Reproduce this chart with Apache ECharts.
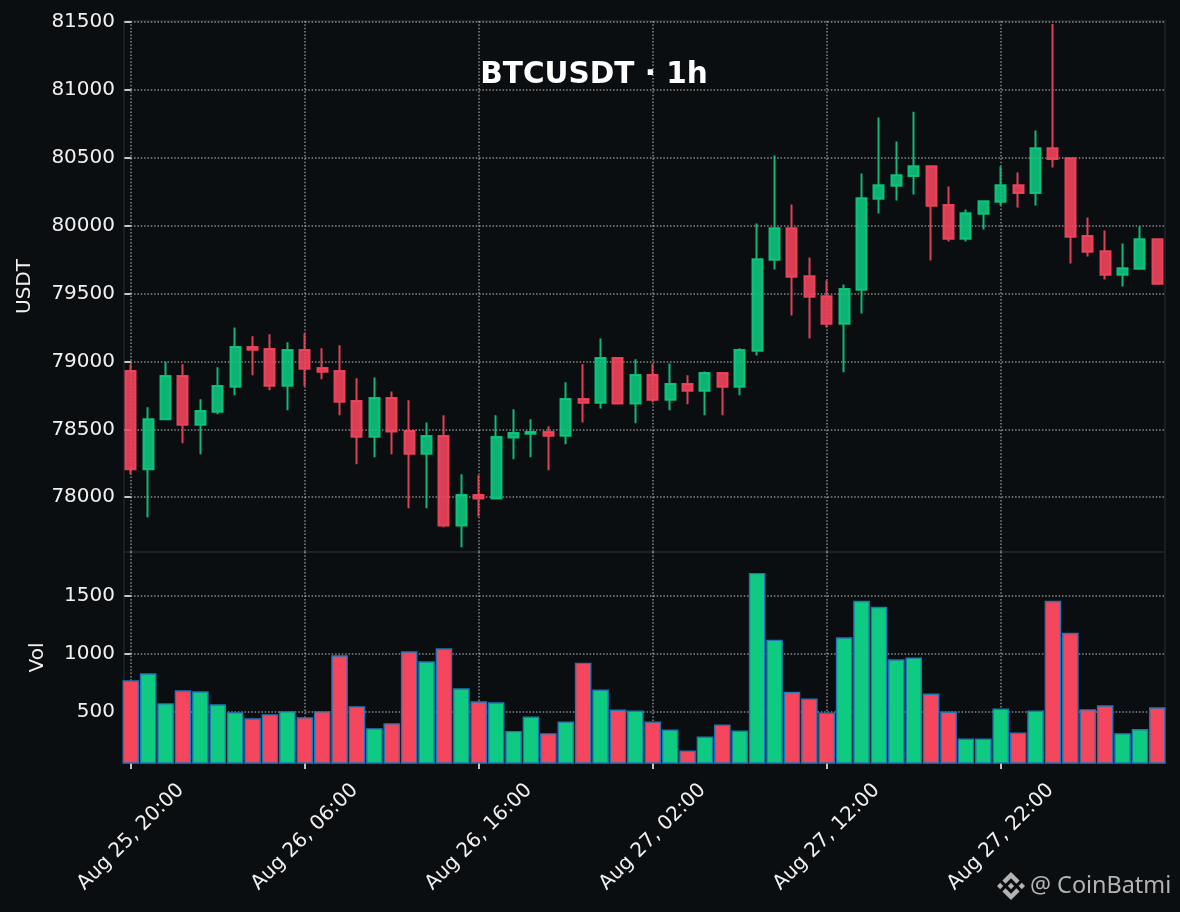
<!DOCTYPE html>
<html>
<head>
<meta charset="utf-8">
<style>html,body{margin:0;padding:0;background:#0b0e11}#c{width:1180px;height:912px}</style>
<script src="https://cdn.jsdelivr.net/npm/echarts@6/dist/echarts.min.js"></script>
</head>
<body>
<div id="c"></div>
<script>
const opens  = [78929,78206,78574,78892,78534,78630,78814,79105,79091,78821,79083,78951,78929,78708,78446,78730,78488,78321,78451,77792,
                78017,77990,78439,78468,78480,78453,78723,78696,79025,78689,78899,78718,78833,78784,78914,78814,79078,79748,79980,79627,
                79480,79277,79527,80196,80292,80365,80436,80150,79902,80086,80174,80297,80240,80569,80495,79922,79811,79637,79681,79899];
const closes = [78206,78574,78892,78534,78635,78819,79105,79086,78821,79083,78946,78924,78703,78446,78730,78483,78321,78451,77792,78017,
                77990,78444,78473,78480,78453,78723,78696,79025,78689,78899,78718,78833,78784,78914,78814,79083,79752,79980,79623,79475,
                79277,79532,80201,80297,80370,80436,80145,79902,80091,80179,80297,80240,80569,80490,79917,79806,79637,79686,79899,79571];
const lows   = [78169,77853,78572,78397,78316,78610,78750,78897,78787,78640,78816,78868,78603,78243,78294,78316,77919,77919,77779,77632,
                77858,77990,78279,78294,78199,78390,78551,78654,78685,78544,78699,78640,78684,78603,78603,78750,79044,79676,79338,79169,
                79250,78919,79353,80088,80184,80228,79743,79882,79882,79971,80147,80132,80147,80426,79721,79772,79603,79551,79680,79567];
const highs  = [78978,78662,78998,78978,78721,78956,79250,79184,79199,79140,79206,79096,79118,78875,78882,78779,78713,78551,78603,78169,
                78162,78603,78647,78574,78522,78846,78978,79169,79030,79015,78978,78985,78897,78926,78918,79096,80015,80515,80154,79765,
                79596,79566,80382,80794,80618,80838,80440,80287,80118,80183,80434,80390,80699,81483,80500,80059,79963,79868,79993,79903];
const volumes = [773,833,575,687,678,566,497,445,480,506,454,506,989,549,359,402,1023,937,1049,704,
                 592,583,335,460,316,417,925,693,520,511,417,348,167,287,391,339,1701,1124,675,615,
                 494,1144,1460,1408,954,971,658,503,270,270,529,322,511,1460,1184,523,557,316,351,540];
const xTicks = [0,10,20,30,40,50];
const xTickLabels = ['Aug 25, 20:00','Aug 26, 06:00','Aug 26, 16:00','Aug 27, 02:00','Aug 27, 12:00','Aug 27, 22:00'];
const priceTicks = [78000,78500,79000,79500,80000,80500,81000,81500];
const volumeTicks = [500,1000,1500];

const UP = '#0ECB81', DOWN = '#F6465D';
const FONT = '"DejaVu Sans"';
const TEXT = '#f0f0f0', TICK = '#d8d8d8', SPINE = '#1e2327';
const gridDots = {show:true, lineStyle:{color:'rgba(255,255,255,0.5)', width:1.5, type:[1.5,1.85]}};
const logoPieces = [
  [[16.62,13.92],[19.34,16.64],[11.99,23.99],[4.64,16.64],[7.35,13.92],[11.99,18.58]],
  [[21.26,9.28],[24,12],[21.28,14.72],[18.57,12]],
  [[11.99,9.28],[14.7,12],[11.99,14.7],[9.27,12]],
  [[2.72,9.28],[5.41,12],[2.72,14.69],[0,12]],
  [[11.99,0.01],[19.34,7.34],[16.62,10.06],[11.99,5.42],[7.35,10.08],[4.64,7.36]]
];

const chart = echarts.init(document.getElementById('c'));
const xCommon = {type:'value', min:-0.39, max:59.44, axisLine:{show:false}, splitLine:gridDots};
const yCommon = {
  type:'value', position:'left', nameLocation:'middle', nameRotate:90,
  nameTextStyle:{color:TEXT, fontSize:20, fontFamily:FONT},
  axisLine:{show:false},
  axisTick:{show:true, inside:false, length:6, lineStyle:{color:TICK, width:1.8}},
  splitLine:gridDots
};
function yAxis(name, min, max, ticks, nameGap){
  return Object.assign({}, yCommon, {
    name, min, max, nameGap,
    axisTick:Object.assign({}, yCommon.axisTick, {customValues:ticks}),
    axisLabel:{customValues:ticks, color:TEXT, fontSize:20, fontFamily:FONT, margin:9, padding:[3,0,0,0],
               showMinLabel:true, showMaxLabel:true, formatter:v=>String(v)}
  });
}
chart.setOption({
  animation:false,
  backgroundColor:'#0b0e11',
  title:{text:'BTCUSDT · 1h', left:589, top:55, textAlign:'center',
         textStyle:{color:'#ffffff', fontSize:29.5, fontWeight:'bold', fontFamily:FONT}},
  grid:[
    {left:124, top:21, width:1041, height:531, show:true, borderColor:SPINE, borderWidth:1.6, backgroundColor:'transparent'},
    {left:124, top:552, width:1041, height:211, show:true, borderColor:SPINE, borderWidth:1.6, backgroundColor:'transparent'}
  ],
  xAxis:[
    Object.assign({}, xCommon, {gridIndex:0, axisTick:{show:false, customValues:xTicks}, axisLabel:{show:false}}),
    Object.assign({}, xCommon, {gridIndex:1, position:'bottom',
      axisTick:{show:true, length:6, customValues:xTicks, lineStyle:{color:TICK, width:1.8}},
      axisLabel:{show:true, customValues:xTicks, rotate:45, margin:74, align:'center', verticalAlign:'middle',
        color:TEXT, fontSize:20, fontFamily:FONT, hideOverlap:false,
        formatter:v=>xTickLabels[xTicks.indexOf(v)]}})
  ],
  yAxis:[
    Object.assign(yAxis('USDT', 77597, 81505, priceTicks, 89), {gridIndex:0}),
    Object.assign(yAxis('Vol', 58, 1882, volumeTicks, 76), {gridIndex:1})
  ],
  series:[
    {type:'candlestick', xAxisIndex:0, yAxisIndex:0, barWidth:10.5, z:3,
     itemStyle:{color:'rgba(14,203,129,0.88)', color0:'rgba(246,70,93,0.88)', borderColor:'rgba(14,203,129,0.9)', borderColor0:'rgba(246,70,93,0.9)', borderWidth:2},
     data:opens.map((o,i)=>[i,o,closes[i],lows[i],highs[i]])},
    {type:'bar', xAxisIndex:1, yAxisIndex:1, barWidth:16.6, z:3,
     itemStyle:{borderColor:'#1f77b4', borderWidth:1.4, color:p=>closes[p.dataIndex]>opens[p.dataIndex]?UP:DOWN},
     data:volumes.map((v,i)=>[i,v])}
  ],
  graphic:[
    {type:'group', x:997, y:872, scaleX:28/24, scaleY:28/24, z:10,
     children:logoPieces.map(p=>({type:'polygon', shape:{points:p}, style:{fill:'#b4b4b4'}}))},
    {type:'text', z:10, x:1030, y:886, style:{text:'@ CoinBatmi', fill:'#b4b4b4', font:'23.4px "Noto Sans"', textAlign:'left', textVerticalAlign:'middle'}}
  ]
});
</script>
</body>
</html>
